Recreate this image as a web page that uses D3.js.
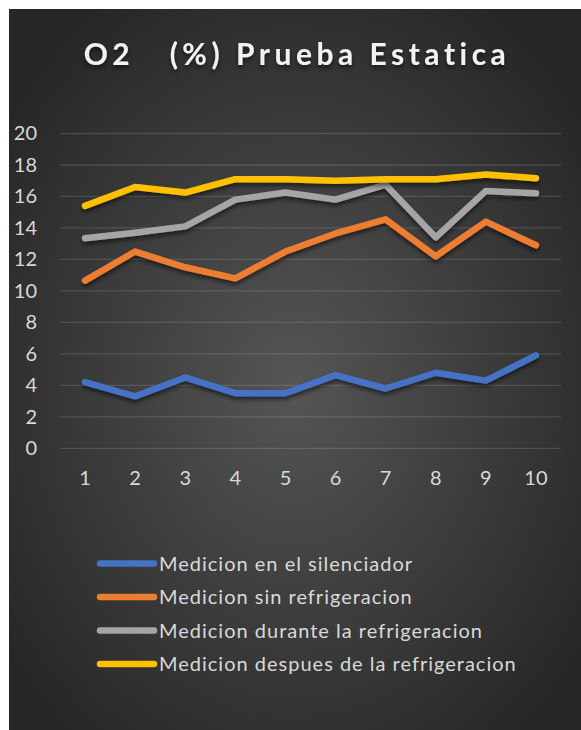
<!DOCTYPE html>
<html>
<head>
<meta charset="utf-8">
<script src="https://cdn.jsdelivr.net/npm/d3@7"></script>
<style>
  body { margin: 0; background: #fff; }
  text { font-family: Lato, "Open Sans", sans-serif; }
</style>
</head>
<body>
<svg id="chart"></svg>
<script>
const categories = [1, 2, 3, 4, 5, 6, 7, 8, 9, 10];
const yTicks = [0, 2, 4, 6, 8, 10, 12, 14, 16, 18, 20];
const seriesNames = [
  "Medicion en el silenciador",
  "Medicion sin refrigeracion",
  "Medicion durante la refrigeracion",
  "Medicion despues de la refrigeracion"
];
const silenciador = [4.2, 3.3, 4.5, 3.5, 3.5, 4.65, 3.8, 4.8, 4.3, 5.9];
const sinRefrig = [10.65, 12.5, 11.5, 10.8, 12.5, 13.65, 14.55, 12.2, 14.4, 12.9];
const duranteRefrig = [13.35, 13.7, 14.1, 15.8, 16.25, 15.8, 16.75, 13.4, 16.35, 16.2];
const despuesRefrig = [15.4, 16.6, 16.25, 17.1, 17.1, 17.0, 17.1, 17.1, 17.4, 17.15];
const colors = ["#4472C4", "#ED7D31", "#A5A5A5", "#FFC000"];

const width = 581;
const height = 730;
const series = [silenciador, sinRefrig, duranteRefrig, despuesRefrig];

const svg = d3.select("#chart")
    .attr("width", width)
    .attr("height", height);

const defs = svg.append("defs");
const grad = defs.append("radialGradient")
    .attr("id", "bg")
    .attr("cx", "50%").attr("cy", "52%").attr("r", "62%");
grad.append("stop").attr("offset", "0%").attr("stop-color", "#555555");
grad.append("stop").attr("offset", "100%").attr("stop-color", "#272727");

const shadow = defs.append("filter")
    .attr("id", "shadow")
    .attr("x", "-10%").attr("y", "-20%").attr("width", "120%").attr("height", "150%");
shadow.append("feDropShadow")
    .attr("dx", 0).attr("dy", 3).attr("stdDeviation", 2)
    .attr("flood-color", "#000").attr("flood-opacity", 0.55);

svg.append("rect")
    .attr("x", 9).attr("y", 9)
    .attr("width", width - 9).attr("height", height - 9)
    .attr("fill", "url(#bg)");

// title
svg.append("text")
    .attr("x", 297)
    .attr("y", 65)
    .attr("text-anchor", "middle")
    .attr("fill", "#f2f2f2")
    .attr("font-size", 30)
    .attr("font-weight", "bold")
    .attr("letter-spacing", 4.5)
    .style("white-space", "pre")
    .attr("filter", "url(#shadow)")
    .text("O2   (%) Prueba Estatica");

const xScale = d3.scaleBand()
    .domain(categories)
    .range([60, 561]);

const yScale = d3.scaleLinear()
    .domain([0, 20])
    .range([448.3, 133.5]);

// gridlines
svg.append("g")
    .selectAll("line")
    .data(yTicks)
    .join("line")
    .attr("x1", 60).attr("x2", 561)
    .attr("y1", d => yScale(d)).attr("y2", d => yScale(d))
    .attr("stroke", "rgba(217,217,217,0.16)")
    .attr("stroke-width", 1.3);

const yAxis = d3.axisLeft(yScale).tickValues(yTicks).tickSize(0).tickPadding(0);
const yG = svg.append("g")
    .attr("transform", "translate(37,0)")
    .call(yAxis);
yG.select(".domain").remove();
yG.selectAll("text")
    .attr("fill", "#d9d9d9")
    .attr("font-size", 20)
    .attr("font-family", "Lato, sans-serif");

const xAxis = d3.axisBottom(xScale).tickSize(0).tickPadding(0);
const xG = svg.append("g")
    .attr("transform", "translate(0,471)")
    .call(xAxis);
xG.select(".domain").remove();
xG.selectAll("text")
    .attr("fill", "#d9d9d9")
    .attr("font-size", 20)
    .attr("font-family", "Lato, sans-serif");

const line = d3.line()
    .x((d, i) => xScale(categories[i]) + xScale.bandwidth() / 2)
    .y(d => yScale(d));

svg.append("g")
    .selectAll("path")
    .data(series)
    .join("path")
    .attr("d", d => line(d))
    .attr("fill", "none")
    .attr("stroke", (d, i) => colors[i])
    .attr("stroke-width", 6.5)
    .attr("stroke-linecap", "round")
    .attr("stroke-linejoin", "round")
    .attr("filter", "url(#shadow)");

// legend
const legend = svg.append("g")
    .selectAll("g")
    .data(seriesNames)
    .join("g")
    .attr("transform", (d, i) => `translate(98,${563.5 + i * 33.5})`);
legend.append("line")
    .attr("x1", 2).attr("x2", 56)
    .attr("stroke", (d, i) => colors[i])
    .attr("stroke-width", 6.5)
    .attr("stroke-linecap", "round");
legend.append("text")
    .attr("x", 61)
    .attr("y", 7)
    .attr("fill", "#d9d9d9")
    .attr("font-size", 20)
    .attr("letter-spacing", 1)
    .text(d => d);
</script>
</body>
</html>
